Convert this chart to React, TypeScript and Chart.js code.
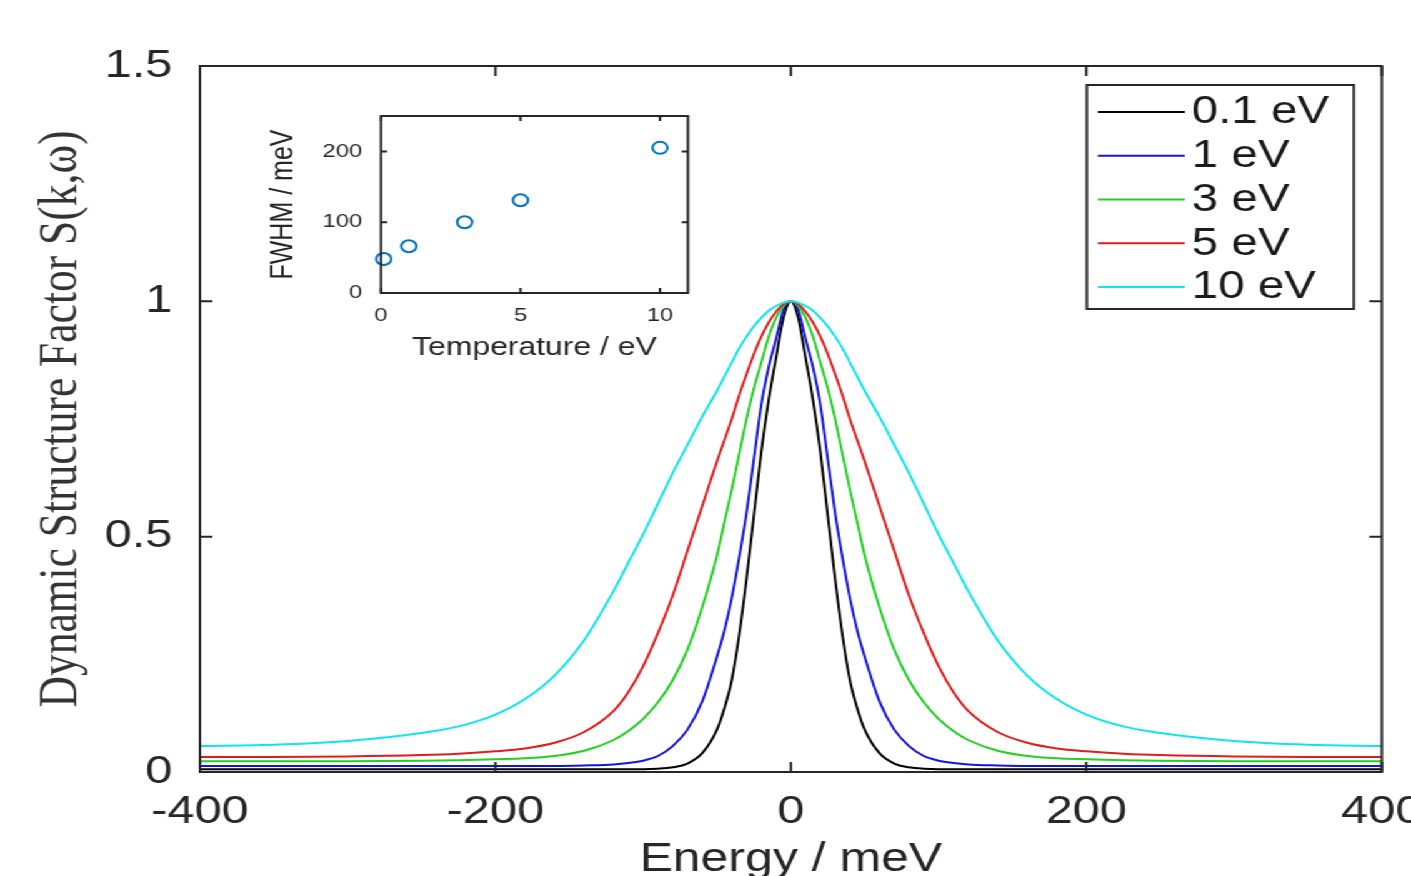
import React, { useEffect, useRef } from "react";
import { Chart, registerables } from "chart.js";
Chart.register(...registerables);

// ---- main chart data ----
const energies = [-400, -350, -300, -250, -225, -200, -180, -160, -140, -120, -110, -100, -90, -80, -70, -60, -50, -45, -40, -35, -30, -25, -20, -15, -10, -5, 0, 5, 10, 15, 20, 25, 30, 35, 40, 45, 50, 60, 70, 80, 90, 100, 110, 120, 140, 160, 180, 200, 225, 250, 300, 350, 400];
const s01 = [0.006, 0.006, 0.006, 0.006, 0.006, 0.006, 0.006, 0.006, 0.006, 0.006, 0.006, 0.006, 0.007, 0.010, 0.018, 0.040, 0.090, 0.135, 0.195, 0.29, 0.41, 0.545, 0.68, 0.79, 0.88, 0.965, 1.0, 0.965, 0.88, 0.79, 0.68, 0.545, 0.41, 0.29, 0.195, 0.135, 0.090, 0.040, 0.018, 0.010, 0.007, 0.006, 0.006, 0.006, 0.006, 0.006, 0.006, 0.006, 0.006, 0.006, 0.006, 0.006, 0.006];
const s1 = [0.013, 0.013, 0.013, 0.013, 0.013, 0.013, 0.013, 0.013, 0.014, 0.016, 0.019, 0.024, 0.034, 0.055, 0.09, 0.15, 0.245, 0.30, 0.37, 0.455, 0.55, 0.665, 0.78, 0.86, 0.92, 0.982, 1.0, 0.982, 0.92, 0.86, 0.78, 0.665, 0.55, 0.455, 0.37, 0.30, 0.245, 0.15, 0.09, 0.055, 0.034, 0.024, 0.019, 0.016, 0.014, 0.013, 0.013, 0.013, 0.013, 0.013, 0.013, 0.013, 0.013];
const s3 = [0.023, 0.023, 0.023, 0.024, 0.025, 0.027, 0.029, 0.034, 0.045, 0.068, 0.087, 0.113, 0.148, 0.195, 0.26, 0.35, 0.46, 0.53, 0.60, 0.675, 0.75, 0.815, 0.87, 0.925, 0.965, 0.99, 1.0, 0.99, 0.965, 0.925, 0.87, 0.815, 0.75, 0.675, 0.60, 0.53, 0.46, 0.35, 0.26, 0.195, 0.148, 0.113, 0.087, 0.068, 0.045, 0.034, 0.029, 0.027, 0.025, 0.024, 0.023, 0.023, 0.023];
const s5 = [0.032, 0.032, 0.033, 0.036, 0.039, 0.044, 0.050, 0.062, 0.085, 0.13, 0.17, 0.225, 0.295, 0.375, 0.47, 0.565, 0.66, 0.705, 0.75, 0.80, 0.845, 0.888, 0.925, 0.955, 0.978, 0.994, 1.0, 0.994, 0.978, 0.955, 0.925, 0.888, 0.845, 0.80, 0.75, 0.705, 0.66, 0.565, 0.47, 0.375, 0.295, 0.225, 0.17, 0.13, 0.085, 0.062, 0.050, 0.044, 0.039, 0.036, 0.033, 0.032, 0.032];
const s10 = [0.055, 0.058, 0.066, 0.083, 0.097, 0.122, 0.155, 0.205, 0.28, 0.385, 0.445, 0.505, 0.57, 0.635, 0.695, 0.755, 0.81, 0.84, 0.87, 0.90, 0.925, 0.947, 0.965, 0.98, 0.99, 0.997, 1.0, 0.997, 0.99, 0.98, 0.965, 0.947, 0.925, 0.90, 0.87, 0.84, 0.81, 0.755, 0.695, 0.635, 0.57, 0.505, 0.445, 0.385, 0.28, 0.205, 0.155, 0.122, 0.097, 0.083, 0.066, 0.058, 0.055];
const seriesLabels = ["0.1 eV", "1 eV", "3 eV", "5 eV", "10 eV"];
const seriesColors = ["#000000", "#1414dc", "#22d022", "#e01c1c", "#10e4ee"];
const xTicks = [-400, -200, 0, 200, 400];
const yTicks = [0, 0.5, 1, 1.5];

// ---- inset data ----
const temperatures = [0.1, 1, 3, 5, 10];
const fwhm = [48, 66, 100, 131, 205];
const insetXTicks = [0, 5, 10];
const insetYTicks = [0, 100, 200];

const W = 1129;
const H = 876;
const SX = 1411 / W;
const SANS = '"Liberation Sans", Arial, Helvetica, sans-serif';
const SERIF = '"Liberation Serif", "Times New Roman", serif';
const AXIS = "#262626";

function boxPlugin(xt: number[], yt: number[], tlen: number, lw: number) {
  return {
    id: "boxAxes",
    afterDatasetsDraw(chart: any) {
      const { ctx, chartArea } = chart;
      const { left, right, top, bottom } = chartArea;
      const xs = chart.scales.x;
      const ys = chart.scales.y;
      ctx.save();
      ctx.strokeStyle = AXIS;
      ctx.lineWidth = lw;
      ctx.strokeRect(left, top, right - left, bottom - top);
      ctx.beginPath();
      for (const v of xt) {
        const px = xs.getPixelForValue(v);
        ctx.moveTo(px, bottom);
        ctx.lineTo(px, bottom - tlen);
        ctx.moveTo(px, top);
        ctx.lineTo(px, top + tlen);
      }
      for (const v of yt) {
        const py = ys.getPixelForValue(v);
        ctx.moveTo(left, py);
        ctx.lineTo(left + tlen, py);
        ctx.moveTo(right, py);
        ctx.lineTo(right - tlen, py);
      }
      ctx.stroke();
      ctx.restore();
    },
  };
}

const legendPlugin = {
  id: "boxLegend",
  afterDraw(chart: any) {
    const ctx = chart.ctx;
    const x0 = 869.6, y0 = 85, w = 213.6, h = 224;
    ctx.save();
    ctx.fillStyle = "#ffffff";
    ctx.fillRect(x0, y0, w, h);
    ctx.strokeStyle = AXIS;
    ctx.lineWidth = 2;
    ctx.strokeRect(x0, y0, w, h);
    ctx.font = `38px ${SANS}`;
    ctx.textBaseline = "middle";
    ctx.textAlign = "left";
    seriesLabels.forEach((lab, i) => {
      const yy = 112 + i * 43.75;
      ctx.strokeStyle = seriesColors[i];
      ctx.lineWidth = 2;
      ctx.beginPath();
      ctx.moveTo(878.4, yy);
      ctx.lineTo(948, yy);
      ctx.stroke();
      ctx.fillStyle = "#1a1a1a";
      ctx.fillText(lab, 953.6, yy + 1);
    });
    ctx.restore();
  },
};

export default function App() {
  const mainRef = useRef<HTMLCanvasElement>(null);
  const insetRef = useRef<HTMLCanvasElement>(null);

  useEffect(() => {
    const series = [s01, s1, s3, s5, s10];
    const main = new Chart(mainRef.current as HTMLCanvasElement, {
      type: "line",
      data: {
        datasets: series.map((vals, i) => ({
          label: seriesLabels[i],
          data: energies.map((e, j) => ({ x: e, y: vals[j] })),
          borderColor: seriesColors[i],
          backgroundColor: seriesColors[i],
          borderWidth: 2,
          pointRadius: 0,
          fill: false,
          cubicInterpolationMode: "monotone",
          order: 5 - i,
        })),
      },
      options: {
        responsive: false,
        animation: false,
        devicePixelRatio: 1,
        layout: { padding: { left: 0, top: 66, right: W - 1105.6, bottom: 0 } },
        plugins: { legend: { display: false }, tooltip: { enabled: false } },
        scales: {
          x: {
            type: "linear",
            min: -400,
            max: 400,
            afterBuildTicks: (s: any) => {
              s.ticks = xTicks.map((v) => ({ value: v }));
            },
            afterFit: (s: any) => {
              s.height = 104;
              s.paddingLeft = 0;
              s.paddingRight = 0;
            },
            grid: { display: false, drawTicks: false },
            border: { display: false },
            ticks: {
              autoSkip: false,
              maxRotation: 0,
              padding: 17,
              color: AXIS,
              font: { family: SANS, size: 39 },
              callback: (v: any) => String(v),
            },
            title: {
              display: true,
              text: "Energy / meV",
              color: AXIS,
              font: { family: SANS, size: 40, lineHeight: 0.8 },
              padding: 0,
            },
          },
          y: {
            type: "linear",
            min: 0,
            max: 1.5,
            afterBuildTicks: (s: any) => {
              s.ticks = yTicks.map((v) => ({ value: v }));
            },
            afterFit: (s: any) => {
              s.width = 160;
              s.paddingTop = 0;
              s.paddingBottom = 0;
            },
            grid: { display: false, drawTicks: false },
            border: { display: false },
            ticks: {
              autoSkip: false,
              padding: 22,
              color: AXIS,
              font: { family: SANS, size: 39 },
              callback: (v: any) => String(v),
            },
            title: {
              display: true,
              text: "Dynamic Structure Factor S(k,ω)",
              color: "#333333",
              font: { family: SERIF, size: 43.5, lineHeight: 1.2 },
              padding: { top: 23, bottom: 0 },
            },
          },
        },
      },
      plugins: [boxPlugin(xTicks, yTicks, 10, 2), legendPlugin],
    } as any);

    const inset = new Chart(insetRef.current as HTMLCanvasElement, {
      type: "scatter",
      data: {
        datasets: [
          {
            label: "FWHM",
            data: temperatures.map((t, i) => ({ x: t, y: fwhm[i] })),
            borderColor: "#0072BD",
            backgroundColor: "rgba(0,0,0,0)",
            pointBackgroundColor: "rgba(0,0,0,0)",
            pointBorderColor: "#0072BD",
            pointBorderWidth: 2,
            pointRadius: 6,
            showLine: false,
            clip: false,
          },
        ],
      },
      options: {
        responsive: false,
        animation: false,
        devicePixelRatio: 1,
        layout: { padding: { left: 0, top: 16, right: 19.6, bottom: 0 } },
        plugins: { legend: { display: false }, tooltip: { enabled: false } },
        scales: {
          x: {
            type: "linear",
            min: 0,
            max: 11,
            afterBuildTicks: (s: any) => {
              s.ticks = insetXTicks.map((v) => ({ value: v }));
            },
            afterFit: (s: any) => {
              s.height = 77;
              s.paddingLeft = 0;
              s.paddingRight = 0;
            },
            grid: { display: false, drawTicks: false },
            border: { display: false },
            ticks: {
              autoSkip: false,
              maxRotation: 0,
              padding: 11,
              color: AXIS,
              font: { family: SANS, size: 19 },
              callback: (v: any) => String(v),
            },
            title: {
              display: true,
              text: "Temperature / eV",
              color: AXIS,
              font: { family: SANS, size: 25.5, lineHeight: 1 },
              padding: { top: 0, bottom: 9 },
            },
          },
          y: {
            type: "linear",
            min: 0,
            max: 250,
            afterBuildTicks: (s: any) => {
              s.ticks = insetYTicks.map((v) => ({ value: v }));
            },
            afterFit: (s: any) => {
              s.width = 94.8;
              s.paddingTop = 0;
              s.paddingBottom = 0;
            },
            grid: { display: false, drawTicks: false },
            border: { display: false },
            ticks: {
              autoSkip: false,
              padding: 15,
              color: AXIS,
              font: { family: SANS, size: 19 },
              callback: (v: any) => String(v),
            },
            title: {
              display: true,
              text: "FWHM / meV",
              color: AXIS,
              font: { family: SANS, size: 25, lineHeight: 1 },
              padding: { top: 5, bottom: 0 },
            },
          },
        },
      },
      plugins: [boxPlugin(insetXTicks, insetYTicks, 5, 2)],
    } as any);

    return () => {
      main.destroy();
      inset.destroy();
    };
  }, []);

  return (
    <div
      style={{
        position: "fixed",
        left: 0,
        top: 0,
        width: W,
        height: H,
        background: "#ffffff",
        transform: `scaleX(${SX})`,
        transformOrigin: "0 0",
        overflow: "hidden",
      }}
    >
      <canvas ref={mainRef} width={W} height={H} style={{ position: "absolute", left: 0, top: 0, display: "block" }} />
      <canvas ref={insetRef} width={360} height={270} style={{ position: "absolute", left: 210, top: 100, display: "block" }} />
    </div>
  );
}
